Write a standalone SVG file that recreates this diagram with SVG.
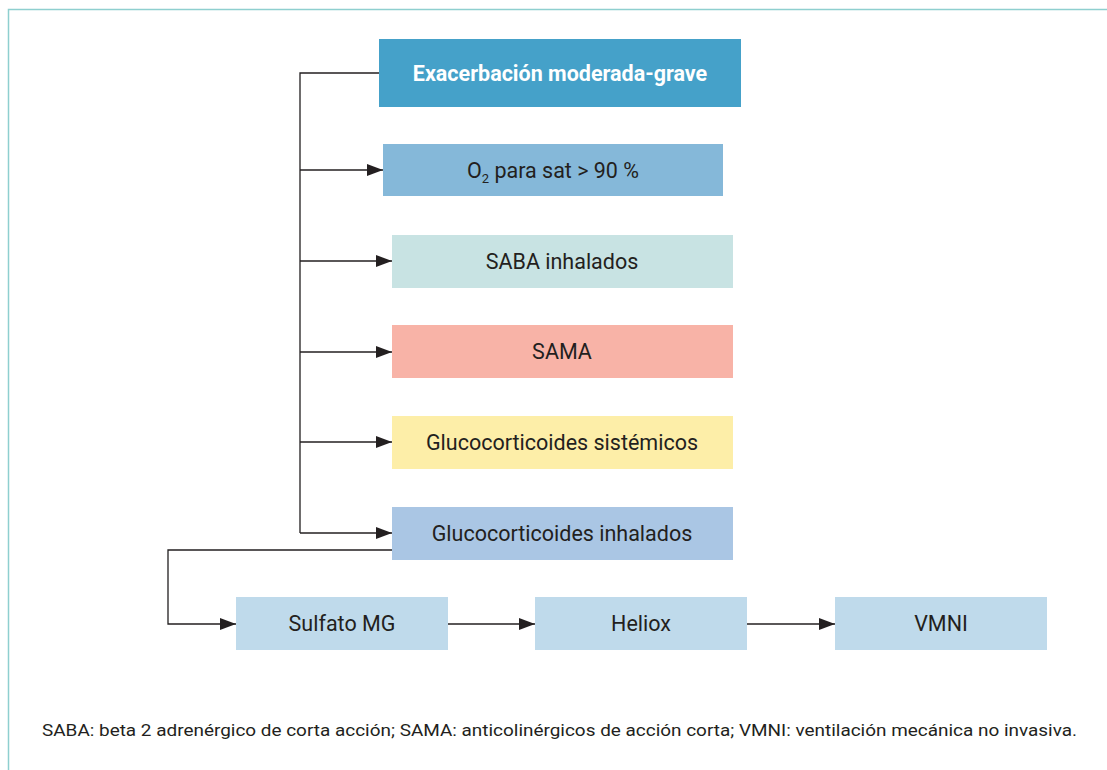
<svg xmlns="http://www.w3.org/2000/svg" width="1107" height="770" viewBox="0 0 1107 770">
<style>
.t{font-family:Roboto,"Liberation Sans",sans-serif;font-size:21.5px;fill:#231f20;text-anchor:middle}
.b{font-weight:bold;fill:#fff}
.c{fill:none;stroke:#231f20;stroke-width:1.3}
</style>
<defs>
<marker id="ah" markerWidth="16" markerHeight="12" refX="16" refY="6" orient="auto" markerUnits="userSpaceOnUse">
<path d="M0,0 L16,6 L0,12 Z" fill="#231f20"/>
</marker>
</defs>
<rect width="1107" height="770" fill="#fff"/>
<path d="M8.5,770 V9.5 H1107" fill="none" stroke="#8ecfcf" stroke-width="1.5"/>
<g id="connectors">
<path class="c" d="M379,73 H300 V533"/>
<path class="c" d="M300,170 H383" marker-end="url(#ah)"/>
<path class="c" d="M300,261 H392" marker-end="url(#ah)"/>
<path class="c" d="M300,352 H392" marker-end="url(#ah)"/>
<path class="c" d="M300,442 H392" marker-end="url(#ah)"/>
<path class="c" d="M300,533 H392" marker-end="url(#ah)"/>
<path class="c" d="M392,550 H168 V624 H236" marker-end="url(#ah)"/>
<path class="c" d="M448,624 H535" marker-end="url(#ah)"/>
<path class="c" d="M747,624 H835" marker-end="url(#ah)"/>
</g>
<g id="n-exacerbacion"><rect x="379" y="39" width="362" height="68" fill="#45a1c9"/><text class="t b" x="560" y="81">Exacerbación moderada-grave</text></g>
<g id="n-o2"><rect x="383" y="144" width="340" height="52" fill="#85b8d9"/><text class="t" x="553" y="178">O<tspan font-size="13" dy="5">2</tspan><tspan dy="-5"> para sat &gt; 90 %</tspan></text></g>
<g id="n-saba"><rect x="392" y="235" width="341" height="53" fill="#c8e3e3"/><text class="t" x="562" y="269">SABA inhalados</text></g>
<g id="n-sama"><rect x="392" y="325" width="341" height="53" fill="#f8b3a7"/><text class="t" x="562" y="359">SAMA</text></g>
<g id="n-gsist"><rect x="392" y="416" width="341" height="53" fill="#fdeea8"/><text class="t" x="562" y="450">Glucocorticoides sistémicos</text></g>
<g id="n-ginh"><rect x="392" y="507" width="341" height="53" fill="#aac6e4"/><text class="t" x="562" y="541">Glucocorticoides inhalados</text></g>
<g id="n-sulfato"><rect x="236" y="597" width="212" height="53" fill="#bfdaeb"/><text class="t" x="342" y="631">Sulfato MG</text></g>
<g id="n-heliox"><rect x="535" y="597" width="212" height="53" fill="#bfdaeb"/><text class="t" x="641" y="631">Heliox</text></g>
<g id="n-vmni"><rect x="835" y="597" width="212" height="53" fill="#bfdaeb"/><text class="t" x="941" y="631">VMNI</text></g>
<text x="42" y="736" font-family="Roboto,'Liberation Sans',sans-serif" font-size="17" fill="#231f20" textLength="1035" lengthAdjust="spacingAndGlyphs">SABA: beta 2 adrenérgico de corta acción; SAMA: anticolinérgicos de acción corta; VMNI: ventilación mecánica no invasiva.</text>
</svg>
